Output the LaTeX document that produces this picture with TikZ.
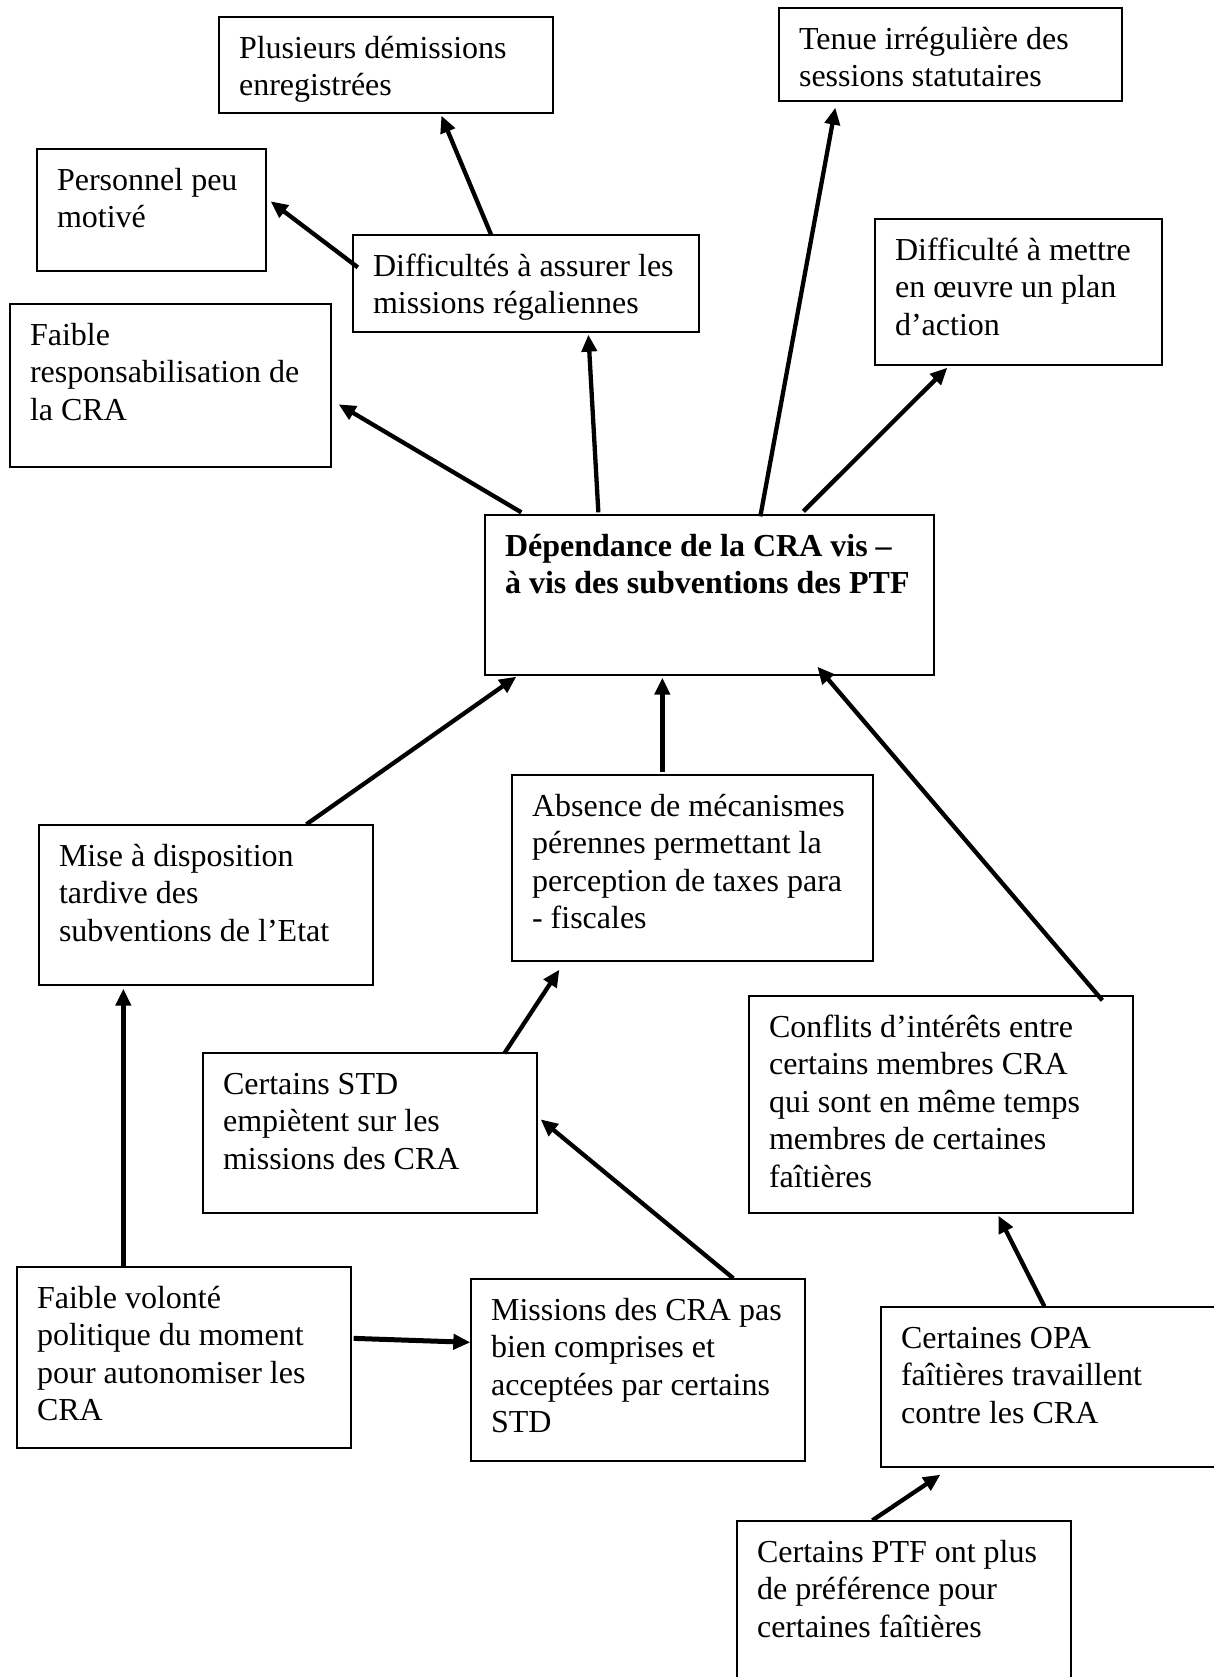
\documentclass[tikz,border=0pt]{standalone}
\usepackage{fontspec}
\setmainfont{Liberation Serif}[Ligatures=NoCommon]
\usetikzlibrary{arrows.meta,fit}
\tikzset{
  box/.style={draw, line width=1.3pt, inner sep=0pt},
  txt/.style={inner sep=0pt, align=left, font=\fontsize{32}{37.5}\selectfont, anchor=north west},
  arr/.style={line width=4.3pt, -{Triangle[length=17pt,width=15pt]}},
}
\newcommand\cbox[6]{%
  \node[box, fit={(#2,#3) (#4,#5)}] (#1) {};
  \node[txt] (#1-t) at ([shift={(20.5pt,-15.25pt)}]#1.north west) {\strut #6};
}
\begin{document}
\begin{tikzpicture}[x=1pt,y=-1pt]
\useasboundingbox (0,0) rectangle (1214,1677);
\clip (0,0) rectangle (1214,1677);
\fill[white] (0,0) rectangle (1214,1677);

\cbox{plus}{219}{17}{553}{113}{Plusieurs démissions\\enregistrées}
\cbox{tenue}{779}{8}{1122}{101}{Tenue irrégulière des\\sessions statutaires}
\cbox{pers}{37}{149}{266}{271}{Personnel peu\\motivé}
\cbox{diff}{353}{235}{699}{332}{Difficultés à assurer les\\missions régaliennes}
\cbox{mettre}{875}{219}{1162}{365}{Difficulté à mettre\\en œuvre un plan\\d’action}
\cbox{resp}{10}{304}{331}{467}{Faible\\responsabilisation de\\la CRA}
\node[box, fit={(485,515) (934,675)}] (dep) {};
\node[txt, font=\fontsize{32}{37.5}\selectfont\bfseries] (dep-t) at ([shift={(20.5pt,-15.25pt)}]dep.north west) {\strut Dépendance de la CRA vis –\\à vis des subventions des PTF};
\cbox{mise}{39}{825}{373}{985}{Mise à disposition\\tardive des\\subventions de l’Etat}
\cbox{abs}{512}{775}{873}{961}{Absence de mécanismes\\pérennes permettant la\\perception de taxes para\\- fiscales}
\cbox{conf}{749}{996}{1133}{1213}{Conflits d’intérêts entre\\certains membres CRA\\qui sont en même temps\\membres de certaines\\faîtières}
\cbox{std}{203}{1053}{537}{1213}{Certains STD\\empiètent sur les\\missions des CRA}
\cbox{volonte}{17}{1267}{351}{1448}{Faible volonté\\politique du moment\\pour autonomiser les\\CRA}
\cbox{missions}{471}{1279}{805}{1461}{Missions des CRA pas\\bien comprises et\\acceptées par certains\\STD}
\cbox{opa}{881}{1307}{1240}{1467}{Certaines OPA\\faîtières travaillent\\contre les CRA}
\cbox{ptf}{737}{1521}{1071}{1710}{Certains PTF ont plus\\de préférence pour\\certaines faîtières}

\draw[arr] ([shift={(139,1)}]diff.north west) -- ([shift={(223,2)}]plus.south west);
\draw[arr] ([shift={(5.5,33)}]diff.north west) -- ([shift={(4,53)}]pers.north east);
\draw[arr] ([shift={(114,-2)}]dep.north west) -- ([shift={(236,2)}]diff.south west);
\draw[arr] ([shift={(37,-2)}]dep.north west) -- ([shift={(7,101)}]resp.north east);
\draw[arr] ([shift={(276,2)}]dep.north west) -- ([shift={(57,6)}]tenue.south west);
\draw[arr] ([shift={(319,-3)}]dep.north west) -- ([shift={(73,2)}]mettre.south west);
\draw[arr] ([shift={(268,0)}]mise.north west) -- ([shift={(32,1)}]dep.south west);
\draw[arr] ([shift={(151,-2)}]abs.north west) -- ([shift={(178,2)}]dep.south west);
\draw[arr] ([shift={(354,5)}]conf.north west) -- ([shift={(333,-9)}]dep.south west);
\draw[arr] ([shift={(302,1)}]std.north west) -- ([shift={(48,8)}]abs.south west);
\draw[arr] ([shift={(107,0)}]volonte.north west) -- ([shift={(85,3)}]mise.south west);
\draw[arr, line width=5pt] ([shift={(2,72)}]volonte.north east) -- ([shift={(0,64)}]missions.north west);
\draw[arr] ([shift={(263,0)}]missions.north west) -- ([shift={(3,67)}]std.north east);
\draw[arr] ([shift={(164,0)}]opa.north west) -- ([shift={(250,2)}]conf.south west);
\draw[arr] ([shift={(136,0)}]ptf.north west) -- ([shift={(60,7)}]opa.south west);
\end{tikzpicture}
\end{document}
